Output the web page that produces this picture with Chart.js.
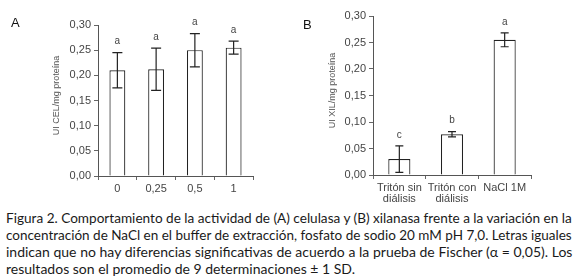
<!DOCTYPE html>
<html>
<head>
<meta charset="utf-8">
<script src="https://cdn.jsdelivr.net/npm/chart.js@4"></script>
<style>
  body { margin: 0; background: #fff; width: 578px; height: 280px; overflow: hidden; position: relative; }
  .box { position: absolute; top: 0; width: 290px; height: 205px; }
  .panel { position: absolute; font: 13px "Liberation Sans", Arial, sans-serif; color: #111; }
  #cap { position: absolute; left: 6px; top: 209px; width: 566px; font: 14px Lato, "Open Sans", sans-serif; color: #1a1a1a; }
  #cap div { white-space: nowrap; line-height: 17px; transform-origin: left center; }
</style>
</head>
<body>
<div class="box" style="left:0"><canvas id="chartA" width="290" height="205"></canvas></div>
<div class="box" style="left:290px"><canvas id="chartB" width="290" height="205"></canvas></div>
<div class="panel" style="left:11px;top:15px">A</div>
<div class="panel" style="left:303px;top:17px">B</div>
<div id="cap">
  <div>Figura 2. Comportamiento de la actividad de (A) celulasa y (B) xilanasa frente a la variación en la</div>
  <div>concentración de NaCl en el buffer de extracción, fosfato de sodio 20 mM pH 7,0. Letras iguales</div>
  <div>indican que no hay diferencias significativas de acuerdo a la prueba de Fischer (α = 0,05). Los</div>
  <div class="last">resultados son el promedio de 9 determinaciones ± 1 SD.</div>
</div>
<script>
// panel A: celulasa vs NaCl
const labelsA = ['0', '0,25', '0,5', '1'];
const meanA = [0.210, 0.212, 0.250, 0.255];
const sdA = [0.035, 0.042, 0.033, 0.013];
const lettersA = ['a', 'a', 'a', 'a'];

// panel B: xilanasa
const labelsB = [['Tritón sin', 'diálisis'], ['Tritón con', 'diálisis'], 'NaCl 1M'];
const meanB = [0.030, 0.077, 0.255];
const sdB = [0.025, 0.005, 0.013];
const lettersB = ['c', 'b', 'a'];

const yTicks = [0, 0.05, 0.10, 0.15, 0.20, 0.25, 0.30];

// error bars, significance letters and the rotated y title
const errPlugin = {
  id: 'errbars',
  afterDatasetsDraw(chart, args, opts) {
    const ctx = chart.ctx;
    const y = chart.scales.y;
    const meta = chart.getDatasetMeta(0);
    ctx.save();
    ctx.strokeStyle = '#222';
    ctx.lineWidth = 1.2;
    meta.data.forEach((bar, i) => {
      const m = opts.mean[i], s = opts.sd[i];
      const top = y.getPixelForValue(m + s);
      const bot = y.getPixelForValue(Math.max(m - s, 0.004));
      const x = bar.x, c = opts.cap;
      ctx.beginPath();
      ctx.moveTo(x, top); ctx.lineTo(x, bot);
      ctx.moveTo(x - c, top); ctx.lineTo(x + c, top);
      ctx.moveTo(x - c, bot); ctx.lineTo(x + c, bot);
      ctx.stroke();
      ctx.fillStyle = '#444';
      ctx.font = '10px "Liberation Sans", Arial, sans-serif';
      ctx.textAlign = 'center';
      ctx.textBaseline = 'middle';
      ctx.fillText(opts.letters[i], x, top - 11);
    });
    const a = chart.chartArea;
    ctx.translate(a.left - opts.titleOff, (a.top + a.bottom) / 2 - 5);
    ctx.rotate(-Math.PI / 2);
    ctx.fillStyle = '#555';
    ctx.font = '9px "Liberation Sans", Arial, sans-serif';
    ctx.fillText(opts.title, 0, 0);
    ctx.restore();
  }
};

function makeChart(id, labels, mean, sd, letters, pad, xHeight, barPct, cap, title, titleOff) {
  return new Chart(document.getElementById(id), {
    type: 'bar',
    data: {
      labels: labels,
      datasets: [{
        data: mean,
        backgroundColor: '#fff',
        borderColor: '#222',
        borderWidth: 1.2,
        categoryPercentage: 1,
        barPercentage: barPct
      }]
    },
    plugins: [errPlugin],
    options: {
      responsive: false,
      animation: false,
      layout: { padding: pad },
      plugins: {
        legend: { display: false },
        tooltip: { enabled: false },
        errbars: { mean: mean, sd: sd, letters: letters, cap: cap, title: title, titleOff: titleOff }
      },
      scales: {
        x: {
          afterFit: (s) => { s.height = xHeight; },
          grid: { offset: true, drawOnChartArea: false, tickLength: 4, color: '#666' },
          border: { color: '#555', width: 1 },
          ticks: { color: '#444', padding: 3, font: { size: 11, family: '"Liberation Sans", Arial, sans-serif', lineHeight: 1.05 }, maxRotation: 0 }
        },
        y: {
          min: 0, max: 0.30,
          afterFit: (s) => { s.width = 48; },
          afterBuildTicks: (s) => { s.ticks = yTicks.map(v => ({ value: v })); },
          grid: { drawOnChartArea: false, tickLength: 4, color: '#666' },
          border: { color: '#555', width: 1 },
          ticks: {
            color: '#444', padding: 3,
            font: { size: 11, family: '"Liberation Sans", Arial, sans-serif' },
            callback: (v) => Number(v).toFixed(2).replace('.', ',')
          }
        }
      }
    }
  });
}

makeChart('chartA', labelsA, meanA, sdA, lettersA, { left: 50, right: 37, top: 25, bottom: 0 }, 29, 0.41, 5, 'UI CEL/mg proteína', 41);
makeChart('chartB', labelsB, meanB, sdB, lettersB, { left: 35, right: 49, top: 16, bottom: 0 }, 30, 0.42, 4, 'UI XIL/mg proteína', 40);

// fit caption lines to full width (justified look)
const W = 566;
document.querySelectorAll('#cap div').forEach((d) => {
  if (d.classList.contains('last')) return;
  d.style.display = 'inline-block';
  const w = d.scrollWidth;
  d.style.display = 'block';
  if (w > W) {
    d.style.transform = 'scaleX(' + (W / w) + ')';
  } else {
    const gaps = (d.textContent.match(/ /g) || []).length;
    d.style.wordSpacing = ((W - w) / gaps) + 'px';
  }
});
</script>
</body>
</html>
